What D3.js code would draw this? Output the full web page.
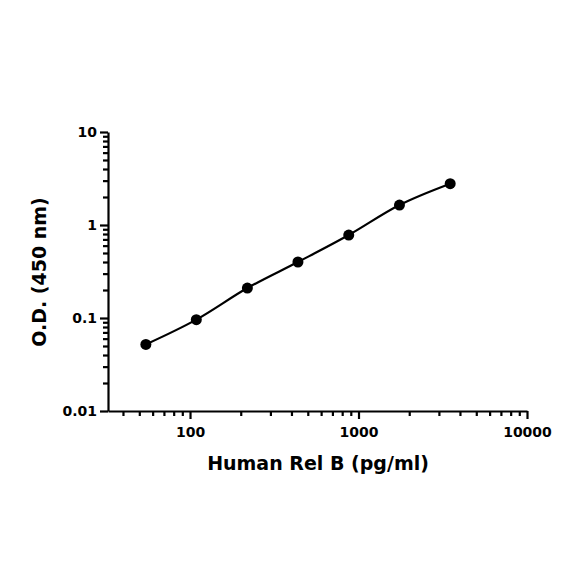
<!DOCTYPE html><html><head><meta charset="utf-8"><script src="https://d3js.org/d3.v7.min.js"></script>
<style>body{margin:0;background:#fff}text{font-family:"Century Gothic","DejaVu Sans",sans-serif;font-weight:bold}</style></head><body><svg id="c" width="584" height="584"></svg><script>
const conc=[54.7,109,219,437,875,1750,3500];
const od=[0.052,0.096,0.21,0.40,0.78,1.64,2.78];
const xTicks=[100,1000,10000];
const yTicks=[0.01,0.1,1,10];
const svg=d3.select("#c");
const x=d3.scaleLog().domain([32.6,10000]).range([108,527]);
const y=d3.scaleLog().domain([0.01,10]).range([411,132]);
function minors(lo,hi){const r=[];for(let d=lo;d<hi;d*=10)for(let k=1;k<10;k++){const v=d*k;r.push(v);}return r;}
const xm=minors(10,10000).filter(v=>v>=40&&v<=10000&&!xTicks.includes(v));
const ym=minors(0.01,10).filter(v=>!yTicks.includes(v)&&v>0.01&&v<10);
const xa=svg.append("g").attr("transform","translate(0,411)");
xa.call(d3.axisBottom(x).tickValues(xTicks).tickFormat(d3.format("d")).tickSize(8).tickSizeOuter(0));
xa.append("g").call(d3.axisBottom(x).tickValues(xm).tickFormat("").tickSize(5).tickSizeOuter(0)).select(".domain").remove();
const ya=svg.append("g").attr("transform","translate(108,0)");
ya.call(d3.axisLeft(y).tickValues(yTicks).tickFormat(d=>String(d)).tickSize(8).tickSizeOuter(0));
ya.append("g").call(d3.axisLeft(y).tickValues(ym).tickFormat("").tickSize(5).tickSizeOuter(0)).select(".domain").remove();
svg.selectAll(".domain,.tick line").attr("stroke","#000").attr("stroke-width",2.2);
svg.selectAll(".tick text").attr("font-size",14).attr("fill","#000");
xa.selectAll(".tick text").attr("dy","1.1em");
const pts=conc.map((c,i)=>[x(c),y(od[i])]);
svg.append("path").attr("d",d3.line().curve(d3.curveMonotoneX)(pts)).attr("fill","none").attr("stroke","#000").attr("stroke-width",2.2);
svg.selectAll("circle").data(conc).join("circle").attr("cx",d=>x(d)).attr("cy",(d,i)=>y(od[i])).attr("r",5.5).attr("fill","#000");
svg.append("text").attr("x",318).attr("y",470).attr("text-anchor","middle").attr("font-size",19).text("Human Rel B (pg/ml)");
svg.append("text").attr("transform","translate(46,272) rotate(-90)").attr("text-anchor","middle").attr("font-size",19).text("O.D. (450 nm)");
</script></body></html>
